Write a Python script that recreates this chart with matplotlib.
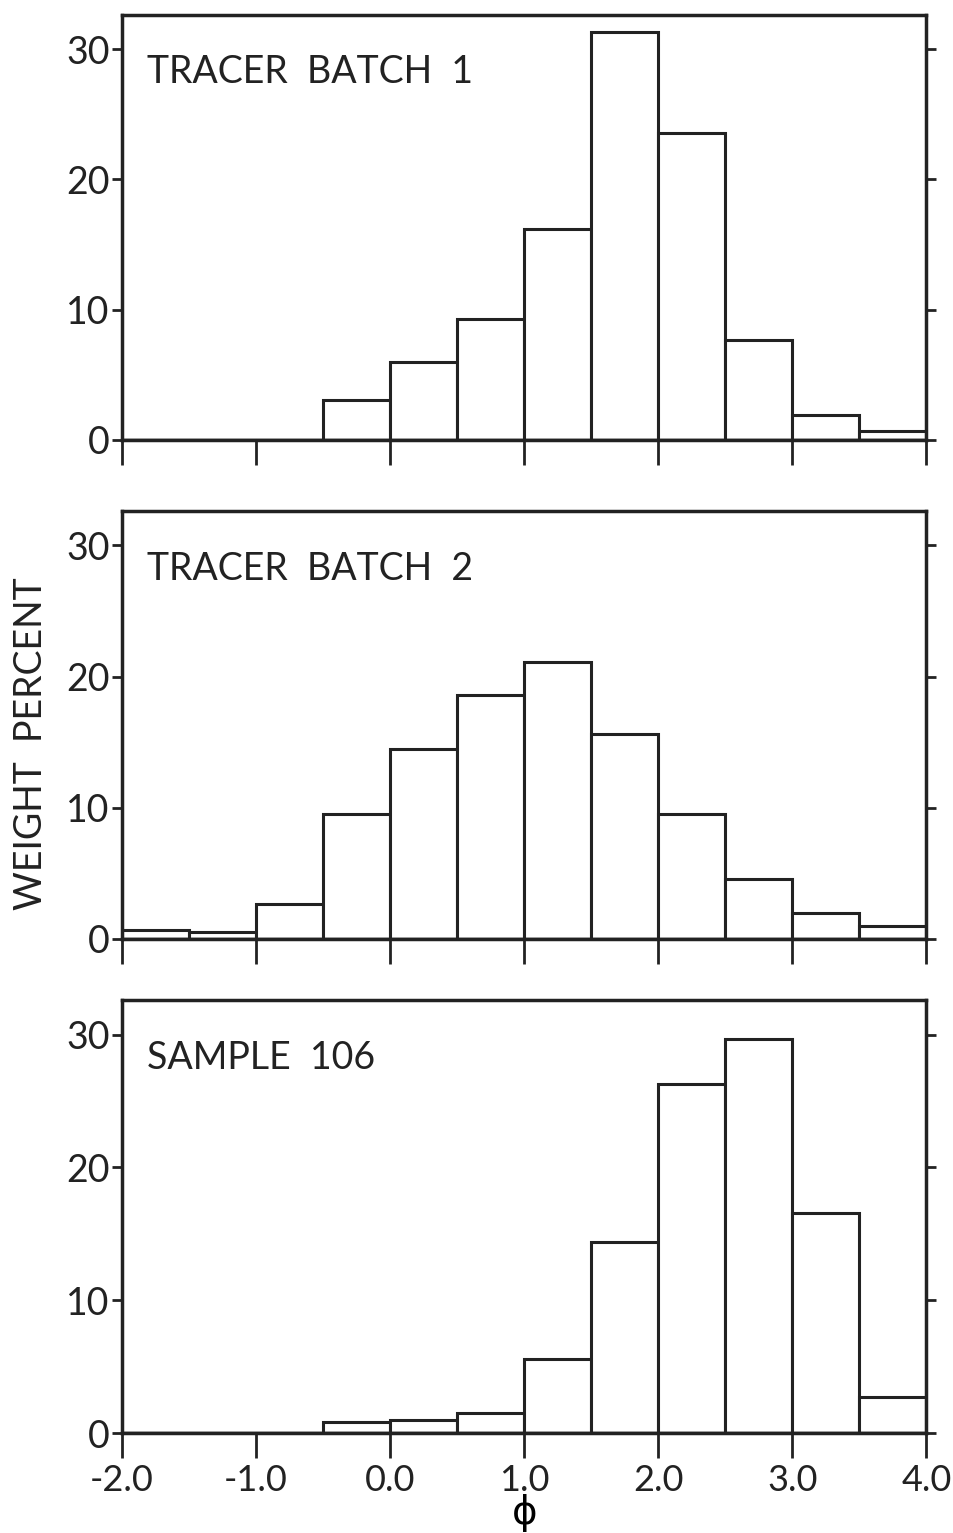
import matplotlib
matplotlib.use("Agg")
import matplotlib.pyplot as plt
import numpy as np

plt.rcParams['font.family'] = ['Lato', 'DejaVu Sans']

bin_edges = [-2.0, -1.5, -1.0, -0.5, 0.0, 0.5, 1.0, 1.5, 2.0, 2.5, 3.0, 3.5]
batch1 = [0, 0, 0, 3.1, 6.0, 9.3, 16.2, 31.3, 23.6, 7.7, 1.9, 0.7]
batch2 = [0.7, 0.5, 2.7, 9.5, 14.5, 18.6, 21.1, 15.6, 9.5, 4.6, 2.0, 1.0]
sample106 = [0, 0, 0, 0.85, 1.0, 1.5, 5.6, 14.4, 26.3, 29.7, 16.6, 2.75]
titles = ["TRACER  BATCH  1", "TRACER  BATCH  2", "SAMPLE  106"]
xticks = [-2.0, -1.0, 0.0, 1.0, 2.0, 3.0, 4.0]
xticklabels = ["-2.0", "-1.0", "0.0", "1.0", "2.0", "3.0", "4.0"]
yticks = [0, 10, 20, 30]

fig = plt.figure(figsize=(9.54, 15.33), dpi=100)
boxes = [[0.128, 0.713, 0.843, 0.277],
         [0.128, 0.3875, 0.843, 0.279],
         [0.128, 0.0652, 0.843, 0.2825]]

for i, (vals, title) in enumerate(zip([batch1, batch2, sample106], titles)):
    ax = fig.add_axes(boxes[i])
    ax.bar(bin_edges, vals, width=0.5, align='edge', facecolor='white',
           edgecolor='#222222', linewidth=2.2)
    ax.axhline(0, color='#222222', linewidth=2.5)
    ax.set_xlim(-2.0, 4.0)
    ax.set_ylim(0, 32.6)
    ax.set_xticks(xticks)
    ax.set_yticks(yticks)
    for s in ax.spines.values():
        s.set_linewidth(2.5)
        s.set_color('#222222')
    ax.tick_params(axis='y', which='both', direction='out', length=7, width=2,
                   right=True, labelsize=27, pad=2, colors='#222222')
    ax.tick_params(axis='x', direction='out', length=18, width=2,
                   labelsize=26, pad=4, colors='#222222')
    if i < 2:
        ax.set_xticklabels([])
    else:
        ax.set_xticklabels(xticklabels)
        ax.set_xlabel("\u03d5", fontsize=28, labelpad=-2,
                      family=['DejaVu Sans'])
    ax.text(0.031, 0.866, title, transform=ax.transAxes, fontsize=27,
            va='center', ha='left', color='#222222')

fig.text(0.032, 0.515, "WEIGHT  PERCENT", rotation=90, fontsize=27,
         va='center', ha='center', color='#222222')

fig.savefig("out.png", dpi=100)
